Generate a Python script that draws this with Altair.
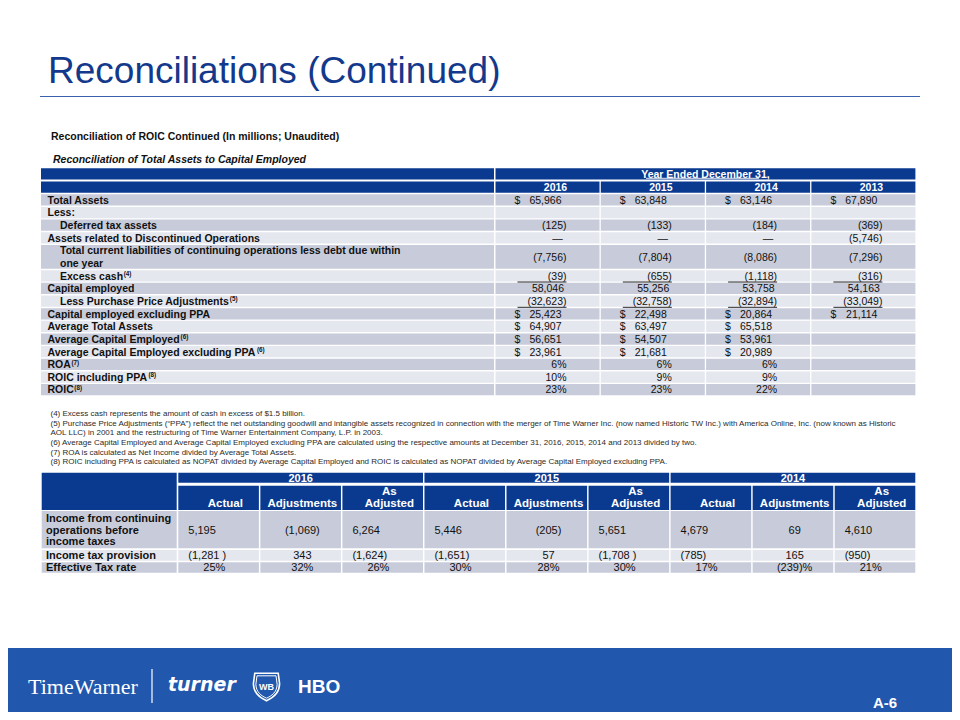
import altair as alt
import pandas as pd

FONT = "Liberation Sans"
HDR = "#0a3a90"
DARK = "#c8ccda"
LIGHT = "#e5e7ef"
TITLE_BLUE = "#13398c"
FOOT_BLUE = "#2157ad"
INK = "#111111"

# ---------------- data ----------------
title = "Reconciliations (Continued)"
subtitle = "Reconciliation of ROIC Continued (In millions; Unaudited)"
subtitle2 = "Reconciliation of Total Assets to Capital Employed"
header_span = "Year Ended December 31,"
years1 = ["2016", "2015", "2014", "2013"]

row_labels = [
    ["Total Assets"],
    ["Less:"],
    ["Deferred tax assets"],
    ["Assets related to Discontinued Operations"],
    ["Total current liabilities of continuing operations less debt due within", "one year"],
    ["Excess cash"],
    ["Capital employed"],
    ["Less Purchase Price Adjustments"],
    ["Capital employed excluding PPA"],
    ["Average Total Assets"],
    ["Average Capital Employed"],
    ["Average Capital Employed excluding PPA"],
    ["ROA"],
    ["ROIC including PPA"],
    ["ROIC"],
]
row_notes = ["", "", "", "", "", "(4)", "", "(5)", "", "", "(6)", "(6)", "(7)", "(8)", "(8)"]
row_indent = [0, 0, 1, 0, 1, 1, 0, 1, 0, 0, 0, 0, 0, 0, 0]
row_underlined = [0, 0, 0, 0, 0, 1, 0, 1, 0, 0, 0, 0, 0, 0, 0]

vals_2016 = ["$ 65,966", "", "(125)", "—", "(7,756)", "(39)", "58,046", "(32,623)",
             "$ 25,423", "$ 64,907", "$ 56,651", "$ 23,961", "6%", "10%", "23%"]
vals_2015 = ["$ 63,848", "", "(133)", "—", "(7,804)", "(655)", "55,256", "(32,758)",
             "$ 22,498", "$ 63,497", "$ 54,507", "$ 21,681", "6%", "9%", "23%"]
vals_2014 = ["$ 63,146", "", "(184)", "—", "(8,086)", "(1,118)", "53,758", "(32,894)",
             "$ 20,864", "$ 65,518", "$ 53,961", "$ 20,989", "6%", "9%", "22%"]
vals_2013 = ["$ 67,890", "", "(369)", "(5,746)", "(7,296)", "(316)", "54,163", "(33,049)",
             "$ 21,114", "", "", "", "", "", ""]

footnotes = [
    "(4) Excess cash represents the amount of cash in excess of $1.5 billion.",
    "(5) Purchase Price Adjustments (“PPA”) reflect the net outstanding goodwill and intangible assets recognized in connection with the merger of Time Warner Inc. (now named Historic TW Inc.) with America Online, Inc. (now known as Historic",
    "AOL LLC) in 2001 and the restructuring of Time Warner Entertainment Company, L.P. in 2003.",
    "(6) Average Capital Employed and Average Capital Employed excluding PPA are calculated using the respective amounts at December 31, 2016, 2015, 2014 and 2013 divided by two.",
    "(7) ROA is calculated as Net Income divided by Average Total Assets.",
    "(8) ROIC including PPA is calculated as NOPAT divided by Average Capital Employed and ROIC is calculated as NOPAT divided by Average Capital Employed excluding PPA.",
]

years2 = ["2016", "2015", "2014"]
subcols = [["Actual"], ["Adjustments"], ["As", "Adjusted"]]
t2_labels = [["Income from continuing", "operations before", "income taxes"],
             ["Income tax provision"], ["Effective Tax rate"]]
income = ["5,195", "(1,069)", "6,264", "5,446", "(205)", "5,651", "4,679", "69", "4,610"]
tax = ["(1,281 )", "343", "(1,624)", "(1,651)", "57", "(1,708 )", "(785)", "165", "(950)"]
eff = ["25%", "32%", "26%", "30%", "28%", "30%", "17%", "(239)%", "21%"]

brand = "TimeWarner"
brand2 = "turner"
brand3 = "HBO"
page_no = "A-6"

# Arial/Liberation Sans Bold advance widths (1/1000 em) for placing note marks
BOLD_W = dict(zip(
    " ABCDEFGHIJKLMNOPQRSTUVWXYZabcdefghijklmnopqrstuvwxyz",
    [278, 722, 722, 722, 722, 667, 611, 778, 722, 278, 556, 722, 611, 833, 722, 778, 667, 778,
     722, 667, 611, 722, 667, 944, 667, 667, 611,
     556, 611, 556, 611, 556, 333, 611, 611, 278, 278, 556, 278, 889, 611, 611, 611, 611, 389,
     556, 333, 611, 556, 778, 556, 556, 500]))


def bold_width(s, size):
    return sum(BOLD_W.get(ch, 556) for ch in s) * size / 1000.0


# ---------------- layout builders ----------------
rects, rules, texts = [], [], []


def T(x, yc, t, size, color=INK, align="left", weight="normal", style="normal", font=FONT, base=None):
    y = base if base is not None else yc + 0.36 * size
    texts.append(dict(x=x, y=y, t=t, s=size, c=color, align=align, w=weight, st=style, f=font))


def R(x, x2, y, y2, fill):
    rects.append(dict(x=x, x2=x2, y=y, y2=y2, c=fill))


def L(x, x2, y, y2, color, w=1.0):
    rules.append(dict(x=x, x2=x2, y=y, y2=y2, c=color, w=w))


# title
T(48, 0, title, 37, TITLE_BLUE, base=83)
L(40, 920, 96.5, 96.5, "#3b63ad", 1.2)
T(51, 136.5, subtitle, 10.5, INK, weight="bold")
T(53, 159.3, subtitle2, 10.5, INK, weight="bold", style="italic")

# ---- table 1 ----
lab_x0, lab_x1 = 41, 494
col_x0 = [495.5 + i * 105.3 for i in range(4)]
col_w = 104.0
h1_top, h_h = 168.3, 11.2
h2_top = 181.5
R(lab_x0, lab_x1, h1_top, h1_top + h_h, HDR)
R(col_x0[0], col_x0[3] + col_w, h1_top, h1_top + h_h, HDR)
T((col_x0[0] + col_x0[3] + col_w) / 2, h1_top + h_h / 2, header_span, 10.5, "white", "center", "bold")
L(646, 759, h1_top + h_h - 1.2, h1_top + h_h - 1.2, "white", 0.9)
R(lab_x0, lab_x1, h2_top, h2_top + h_h, HDR)
for i, yr in enumerate(years1):
    R(col_x0[i], col_x0[i] + col_w, h2_top, h2_top + h_h, HDR)
    T(col_x0[i] + 60, h2_top + h_h / 2, yr, 10.5, "white", "center", "bold")

all_vals = [vals_2016, vals_2015, vals_2014, vals_2013]
unit = 12.65
top = 194.3
for r, lines in enumerate(row_labels):
    n = len(lines)
    y0, y1 = top, top + n * unit - 1.4
    fill = DARK if r % 2 == 0 else LIGHT
    R(lab_x0, lab_x1, y0, y1, fill)
    for i in range(4):
        R(col_x0[i], col_x0[i] + col_w, y0, y1, fill)
    lx = 60 if row_indent[r] else 47.5
    if n == 1:
        T(lx, (y0 + y1) / 2, lines[0], 10.5, weight="bold")
        if row_notes[r]:
            nx = lx + bold_width(lines[0], 10.5) + 0.6
            T(nx, 0, row_notes[r], 6.3, weight="bold", base=(y0 + y1) / 2 + 0.3)
    else:
        for k, ln in enumerate(lines):
            T(lx, y0 + 5.8 + k * 12.3, ln, 10.5, weight="bold")
    yc = (y0 + y1) / 2
    for i in range(4):
        v = all_vals[i][r]
        if not v:
            continue
        cx = col_x0[i]
        if v.startswith("$ "):
            T(cx + 19, yc, "$", 10.5)
            T(cx + 66, yc, v[2:], 10.5, align="right")
        elif v == "—":
            T(cx + 62, yc, v, 10.5, align="center")
        elif v.endswith(")") or v.endswith("%"):
            T(cx + 71, yc, v, 10.5, align="right")
        else:
            T(cx + 68.5, yc, v, 10.5, align="right")
        if row_underlined[r]:
            L(cx + 22, cx + 71, yc + 6.2, yc + 6.2, INK, 0.9)
    top += n * unit

# footnotes
fn_y = [413, 422.7, 432.3, 442, 451.7, 461.3]
for k, fn in enumerate(footnotes):
    T(50.5, fn_y[k], fn, 8.0, "#2a2a2a")

# ---- table 2 ----
t2_lab0, t2_lab1 = 41.7, 176.7
sc_x0 = [178.3 + j * 82.05 for j in range(9)]
sc_w = 80.6
hy0, hy1 = 472.7, 482.7
sy0, sy1 = 485.7, 510.0
R(t2_lab0, t2_lab1, hy0, sy1, HDR)
for k, yr in enumerate(years2):
    xa = sc_x0[3 * k]
    xb = sc_x0[3 * k + 2] + sc_w
    R(xa, xb, hy0, hy1, HDR)
    T((xa + xb) / 2, (hy0 + hy1) / 2, yr, 11, "white", "center", "bold")
    for m, sub in enumerate(subcols):
        j = 3 * k + m
        R(sc_x0[j], sc_x0[j] + sc_w, sy0, sy1, HDR)
        off = [47, 42, 47][m]
        if len(sub) == 1:
            T(sc_x0[j] + off, 503, sub[0], 11.5, "white", "center", "bold")
        else:
            T(sc_x0[j] + off, 491, sub[0], 11.5, "white", "center", "bold")
            T(sc_x0[j] + off, 503, sub[1], 11.5, "white", "center", "bold")

t2_rows = [(511.0, 548.3, DARK), (550.0, 560.7, LIGHT), (562.3, 572.7, DARK)]
t2_vals = [income, tax, eff]
for r, (y0, y1, fill) in enumerate(t2_rows):
    R(t2_lab0, t2_lab1, y0, y1, fill)
    for j in range(9):
        R(sc_x0[j], sc_x0[j] + sc_w, y0, y1, fill)
    lines = t2_labels[r]
    yc = (y0 + y1) / 2
    if len(lines) == 1:
        T(46, yc, lines[0], 11, weight="bold")
    else:
        for k, ln in enumerate(lines):
            T(46, 518.3 + k * 11.6, ln, 11, weight="bold")
    for j in range(9):
        v = t2_vals[r][j]
        m = j % 3
        if m == 1:
            T(sc_x0[j] + 42, yc, v, 11, align="center")
        elif r < 2:
            T(sc_x0[j] + 10, yc, v, 11)
        else:
            T(sc_x0[j] + 36, yc, v, 11, align="center")

# ---- footer ----
R(0, 960, 648, 720, FOOT_BLUE)
T(28, 0, brand, 22, "white", font="Liberation Serif", base=694)
L(152, 152, 669, 703, "#dfe6f5", 1.4)
T(168, 0, brand2, 19, "white", weight="bold", style="italic", font="DejaVu Sans", base=691)
T(298, 0, brand3, 19, "white", weight="bold", base=693)
T(873, 0, page_no, 15, "white", weight="bold", base=708)
T(266.5, 0, "WB", 9, "white", "center", "bold", base=690)

# ---------------- chart ----------------
XS = alt.Scale(domain=[8, 952], range=[0, 944], nice=False, zero=False)
YS = alt.Scale(domain=[8, 712], range=[0, 704], nice=False, zero=False)

rect_df = pd.DataFrame(rects)
rule_df = pd.DataFrame(rules)
text_df = pd.DataFrame(texts)

rect_layer = alt.Chart(rect_df).mark_rect().encode(
    x=alt.X("x:Q", scale=XS, axis=None), x2="x2:Q",
    y=alt.Y("y:Q", scale=YS, axis=None), y2="y2:Q",
    color=alt.Color("c:N", scale=None, legend=None),
)
rule_layer = alt.Chart(rule_df).mark_rule().encode(
    x=alt.X("x:Q", scale=XS, axis=None), x2="x2:Q",
    y=alt.Y("y:Q", scale=YS, axis=None), y2="y2:Q",
    color=alt.Color("c:N", scale=None, legend=None),
    strokeWidth=alt.StrokeWidth("w:Q", scale=None, legend=None),
)

text_layers = []
for (al, w, st, f), g in text_df.groupby(["align", "w", "st", "f"]):
    text_layers.append(
        alt.Chart(g).mark_text(align=al, baseline="alphabetic", fontWeight=w, fontStyle=st, font=f).encode(
            x=alt.X("x:Q", scale=XS, axis=None),
            y=alt.Y("y:Q", scale=YS, axis=None),
            text="t:N",
            size=alt.Size("s:Q", scale=None, legend=None),
            color=alt.Color("c:N", scale=None, legend=None),
        )
    )

SHIELD = "M-0.85,-1 L0.85,-1 L0.95,-0.25 C0.95,0.45 0.45,0.8 0,1 C-0.45,0.8 -0.95,0.45 -0.95,-0.25 Z"
shield_df = pd.DataFrame({"x": [266.5], "y": [687.0]})
shield = alt.Chart(shield_df).mark_point(
    shape=SHIELD, size=760, filled=False, stroke="white", strokeWidth=1.6, opacity=1,
).encode(
    x=alt.X("x:Q", scale=XS, axis=None),
    y=alt.Y("y:Q", scale=YS, axis=None),
)
shield_in = alt.Chart(shield_df).mark_point(
    shape=SHIELD, size=500, filled=False, stroke="white", strokeWidth=1.0, opacity=1,
).encode(
    x=alt.X("x:Q", scale=XS, axis=None),
    y=alt.Y("y:Q", scale=YS, axis=None),
)

chart = alt.layer(rect_layer, rule_layer, *text_layers, shield, shield_in).properties(
    width=944, height=704, background="white", padding=0, autosize="none"
).configure_view(stroke=None)

chart.save("out.html", embed_options={"renderer": "svg", "actions": False})
